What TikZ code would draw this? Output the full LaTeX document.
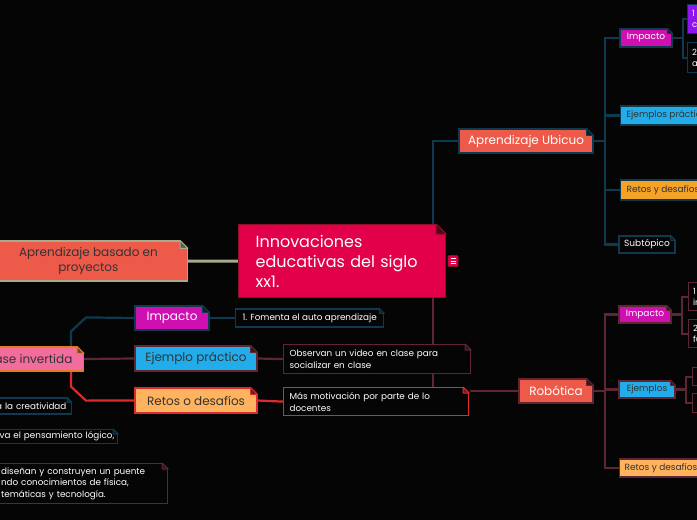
\documentclass[tikz,border=0pt]{standalone}
\usepackage{fontspec}
\setmainfont{Poppins}
\usetikzlibrary{calc}
\pgfdeclarelayer{background}
\pgfsetlayers{background,main}
\definecolor{bgc}{HTML}{050505}
\definecolor{cfill}{HTML}{E3004A}
\definecolor{cborder}{HTML}{8E0E2A}
\definecolor{coral}{HTML}{EE5A4A}
\definecolor{khaki}{HTML}{A9A98C}
\definecolor{tealc}{HTML}{0E3A50}
\definecolor{maroonc}{HTML}{5E2633}
\definecolor{redc}{HTML}{DC2B2B}
\definecolor{magentac}{HTML}{CF10B0}
\definecolor{skyc}{HTML}{22ADEA}
\definecolor{orangec}{HTML}{F4A326}
\definecolor{lorangec}{HTML}{FFB35E}
\definecolor{pinkc}{HTML}{F26C9E}
\definecolor{clasebord}{HTML}{E07B1E}
\definecolor{purplec}{HTML}{8E14F0}
\definecolor{darktext}{HTML}{333333}
\newcommand\foldcorner[3]{%
  \fill[bgc] ($(#1.north east)+(-#3-1,-1)$) -- ($(#1.north east)+(1,-1)$) -- ($(#1.north east)+(1,#3+1)$) -- cycle;
  \filldraw[draw=#2, fill=#2!55!black, line width=1pt, line join=round]
    ($(#1.north east)+(-#3,0)$) -- ($(#1.north east)+(-#3,#3)$) -- ($(#1.north east)+(0,#3)$) -- cycle;}
\begin{document}
\begin{tikzpicture}[x=1pt,y=-1pt,
  box/.style={rectangle, draw, line width=1.2pt, inner sep=0pt, align=center},
  sec/.style={box, font=\fontsize{12}{14}\selectfont, minimum height=24pt},
  ter/.style={box, font=\fontsize{9}{11}\selectfont, minimum height=18pt},
  txt/.style={box, fill=bgc, text=white, font=\fontsize{8.8}{12}\selectfont, align=left},
  conn/.style={line width=2.2pt}]
\useasboundingbox (0,0) rectangle (697,520);
\clip (0,0) rectangle (697,520);
\begin{pgfonlayer}{background}
\fill[bgc] (0,0) rectangle (697,520);
\end{pgfonlayer}

% central
\node[box, fill=cfill, draw=cborder, text=white, font=\fontsize{16}{20}\selectfont, align=left,
  anchor=north west, minimum width=207pt, minimum height=73pt, text width=173pt, inner xsep=17pt]
  (center) at (238,224) {Innovaciones\\educativas del siglo\\xx1.};
\node[fill=cfill, draw=cborder, line width=0.6pt, minimum width=10pt, minimum height=11pt, inner sep=0pt, rounded corners=1pt] (icon) at (453,261) {};
\foreach \dy in {-2.5,0,2.5}
  \draw[white, line width=0.8pt] ($(icon.center)+(-2.5,\dy)$) -- ++(5,0);

% left main
\node[box, fill=coral, draw=khaki, text=darktext, font=\fontsize{12}{15}\selectfont,
  minimum width=198pt, minimum height=40pt, anchor=east] (proy) at (188,261) {Aprendizaje basado en\\proyectos};

% Aprendizaje Ubicuo branch
\node[sec, fill=coral, draw=tealc, text=white, minimum width=134pt] (ubi) at (526,141) {Aprendizaje Ubicuo};
\node[ter, fill=magentac, draw=tealc, text=white, minimum width=52pt] (uimp) at (646,38) {Impacto};
\node[ter, fill=skyc, draw=tealc, text=darktext, anchor=west, inner xsep=6pt, minimum height=19pt] (uej) at (620,115.5) {Ejemplos prácticos};
\node[ter, fill=orangec, draw=tealc, text=darktext, anchor=west, inner xsep=6pt, minimum height=20pt] (uret) at (620,190) {Retos y desafíos};
\node[ter, fill=bgc, draw=tealc, text=white, minimum width=56pt, minimum height=17pt] (usub) at (647,244.5) {Subtópico};
\node[txt, fill=purplec, draw=tealc, anchor=north west, minimum width=40pt, minimum height=29pt, text width=31pt, inner xsep=4.5pt, font=\fontsize{8.5}{11}\selectfont] (u1) at (687,4) {1\\c};
\node[txt, draw=tealc, anchor=north west, minimum width=40pt, minimum height=30pt, text width=31pt, inner xsep=4.5pt, font=\fontsize{8.5}{11}\selectfont] (u2) at (687,42) {2\\a};

% Robotica branch
\node[sec, fill=coral, draw=maroonc, text=white, minimum width=74pt] (robot) at (556,391) {Robótica};
\node[ter, fill=magentac, draw=maroonc, text=white, minimum width=52pt, minimum height=17pt] (rimp) at (645,314.5) {Impacto};
\node[ter, fill=skyc, draw=maroonc, text=darktext, minimum width=56pt, minimum height=17pt] (rej) at (647,389.5) {Ejemplos};
\node[ter, fill=lorangec, draw=maroonc, text=darktext, anchor=west, inner xsep=5pt] (rret) at (619,468) {Retos y desafíos};
\node[txt, draw=maroonc, anchor=north west, minimum width=40pt, minimum height=28pt, text width=31pt, inner xsep=4.5pt, font=\fontsize{8.5}{11}\selectfont] (r1) at (688,282) {1\\in};
\node[txt, draw=maroonc, anchor=north west, minimum width=40pt, minimum height=28pt, text width=31pt, inner xsep=4.5pt, font=\fontsize{8.5}{11}\selectfont] (r2) at (688,319) {2\\fu};
\node[txt, draw=maroonc, anchor=north west, minimum width=40pt, minimum height=18pt] (r3) at (692,367) {};
\node[txt, draw=maroonc, anchor=north west, minimum width=40pt, minimum height=19pt] (r4) at (692,393) {};

% Clase invertida branch
\node[sec, fill=pinkc, draw=clasebord, text=darktext, anchor=east, inner xsep=11pt] (clase) at (84,359) {Clase invertida};
\node[sec, fill=magentac, draw=tealc, text=white, minimum width=74pt] (limp) at (172,318) {Impacto};
\node[sec, fill=skyc, draw=maroonc, text=darktext, minimum width=122pt, minimum height=25pt] (lej) at (196,358.5) {Ejemplo práctico};
\node[sec, fill=lorangec, draw=redc, text=darktext, minimum width=122pt, minimum height=25pt] (lret) at (196,400.5) {Retos o desafíos};
\node[txt, draw=tealc, anchor=west, minimum height=18pt, inner xsep=7pt] (fomenta) at (235,318) {1. Fomenta el auto aprendizaje};
\node[txt, draw=maroonc, anchor=north west, minimum height=29pt, text width=175pt, inner xsep=6pt] (observan) at (283,344) {Observan un video en clase para\\socializar en clase};
\node[txt, draw=redc, anchor=north west, minimum height=28pt, text width=173pt, inner xsep=6pt] (mas) at (283,387) {Más motivación por parte de lo\\docentes};
\node[txt, draw=tealc, anchor=east, minimum height=16pt, text width=90pt, align=right, inner xsep=5pt] (crea) at (72,406) {a la creatividad};
\node[txt, draw=tealc, anchor=north west, minimum height=14pt, text width=107pt, inner xsep=11pt] (logic) at (-12,429) {\mbox{va el pensamiento lógico,}};
\node[txt, draw=maroonc, anchor=north west, minimum height=40pt, text width=154pt, inner xsep=12.5pt, font=\fontsize{8.8}{11.5}\selectfont] (puente) at (-12,463) {diseñan y construyen un puente\\ndo conocimientos de física,\\temáticas y tecnología.};

% folded corners
\foldcorner{center}{cborder}{10}
\foldcorner{proy}{khaki}{8}
\foldcorner{ubi}{tealc}{7}
\foldcorner{uimp}{tealc}{5}
\foldcorner{usub}{tealc}{5}
\foldcorner{robot}{maroonc}{7}
\foldcorner{rimp}{maroonc}{5}
\foldcorner{rej}{maroonc}{5}
\foldcorner{clase}{clasebord}{7}
\foldcorner{limp}{tealc}{7}
\foldcorner{lej}{maroonc}{7}
\foldcorner{lret}{redc}{7}
\foldcorner{fomenta}{tealc}{5}
\foldcorner{observan}{maroonc}{6}
\foldcorner{mas}{redc}{6}
\foldcorner{crea}{tealc}{5}
\foldcorner{logic}{tealc}{5}
\foldcorner{puente}{maroonc}{6}

% connectors
\begin{pgfonlayer}{background}
\draw[conn, khaki, line width=3pt] (proy.east) -- (center.west);
\draw[conn, tealc] ([xshift=-13pt]center.north east) |- (ubi.west);
\draw[conn, maroonc] ([xshift=-13pt]center.south east) |- (robot.west);
\draw[conn, tealc] (ubi.east) -- ++(11,0) coordinate (uj);
\foreach \n in {uimp,uej,uret,usub} \draw[conn, tealc] (uj) |- (\n.west);
\draw[conn, tealc] (uimp.east) -- ++(10,0) coordinate (uij);
\foreach \n in {u1,u2} \draw[conn, tealc] (uij) |- (\n.west);
\draw[conn, maroonc] (robot.east) -- ++(11,0) coordinate (rj);
\foreach \n in {rimp,rej,rret} \draw[conn, maroonc] (rj) |- (\n.west);
\draw[conn, maroonc] (rimp.east) -- ++(10,0) coordinate (rij);
\foreach \n in {r1,r2} \draw[conn, maroonc] (rij) |- (\n.west);
\draw[conn, maroonc] (rej.east) -- ++(10,0) coordinate (rejj);
\foreach \n in {r3,r4} \draw[conn, maroonc] (rejj) |- (\n.west);
\draw[conn, tealc] ([xshift=-13pt]clase.north east) -- ++(0,-15) -- ++(15,-14) -- (limp.west);
\draw[conn, redc] ([xshift=-13pt]clase.south east) -- ++(0,15) -- ++(15,14) -- (lret.west);
\draw[conn, maroonc] (clase.east) -- (lej.west);
\draw[conn, tealc] (limp.east) -- (fomenta.west);
\draw[conn, maroonc] (lej.east) -- (observan.west);
\draw[conn, redc] (lret.east) -- (mas.west);
\end{pgfonlayer}
\end{tikzpicture}
\end{document}
